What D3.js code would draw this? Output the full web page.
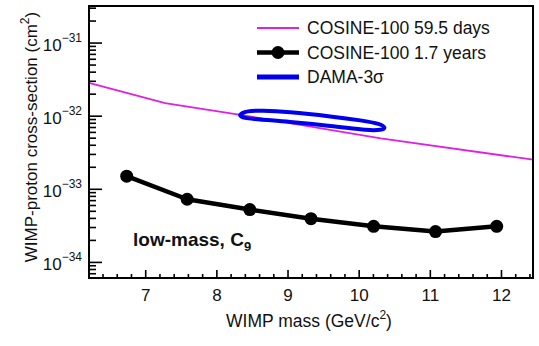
<!DOCTYPE html>
<html>
<head>
<meta charset="utf-8">
<script src="https://cdn.jsdelivr.net/npm/d3@7"></script>
<style>
  body { margin: 0; background: #fff; }
  svg text { font-family: "Liberation Sans", Arial, sans-serif; fill: #111; }
  .axis path { display: none; }
  .axis line { stroke: #000; stroke-width: 1.6; }
</style>
</head>
<body>
<svg id="chart" width="539" height="346"></svg>
<script>
/* values */
const massTicks = [7, 8, 9, 10, 11, 12];
const decadeExps = [-31, -32, -33, -34];

// COSINE-100 59.5 days (magenta line)
const shortMass = [6.21, 7.28, 8.36, 10.31, 12.45];
const shortXsec = [2.8e-32, 1.48e-32, 1.02e-32, 4.9e-33, 2.5e-33];

// COSINE-100 1.7 years (black points)
const longMass = [6.74, 7.59, 8.47, 9.33, 10.21, 11.08, 11.94];
const longXsec = [1.49e-33, 7.2e-34, 5.2e-34, 3.9e-34, 3.07e-34, 2.6e-34, 3.07e-34];

// DAMA 3 sigma contour
const damaMass = [8.335, 8.448, 8.659, 9.038, 9.600, 10.022, 10.275, 10.360, 10.303, 10.093, 9.600, 9.038, 8.617, 8.406];
const damaXsec = [1.026e-32, 1.146e-32, 1.164e-32, 1.11e-32, 9.77e-33, 8.62e-33, 7.73e-33, 6.92e-33, 6.40e-33, 6.40e-33, 7.25e-33, 8.22e-33, 8.89e-33, 9.33e-33];

const legendLabels = ["COSINE-100 59.5 days", "COSINE-100 1.7 years", "DAMA-3\u03c3"];
const colors = { short: "#e020e0", long: "#000", dama: "#0000ee" };

const margin = { top: 6, right: 6, bottom: 68, left: 89 };
const width = 539 - margin.left - margin.right;
const height = 346 - margin.top - margin.bottom;

const svg = d3.select("#chart");
const g = svg.append("g").attr("transform", `translate(${margin.left},${margin.top})`);

const x = d3.scaleLinear().domain([6.21, 12.45]).range([0, width]);
const y = d3.scaleLog().domain([Math.pow(10, -34.22), Math.pow(10, -30.5)]).range([height, 0]);

// x axis ticks (inward)
const xMinor = d3.range(6.4, 12.45, 0.2).filter(v => Math.abs(v - Math.round(v)) > 0.01);
g.append("g").attr("class", "axis")
  .attr("transform", `translate(0,${height})`)
  .call(d3.axisBottom(x).tickValues(xMinor).tickSize(-4).tickFormat(""));
const xAxis = g.append("g").attr("class", "axis")
  .attr("transform", `translate(0,${height})`)
  .call(d3.axisBottom(x).tickValues(massTicks).tickSize(-8).tickPadding(14).tickFormat(d3.format("d")));
xAxis.selectAll("text").attr("font-size", 17).attr("dy", "0.5em");

// y axis ticks (inward)
const yMinor = y.ticks().filter(v => {
  const m = v / Math.pow(10, Math.floor(Math.log10(v) + 1e-9));
  return Math.abs(m - 1) > 1e-6;
});
g.append("g").attr("class", "axis")
  .call(d3.axisLeft(y).tickValues(yMinor).tickSize(-7).tickFormat(""));
g.append("g").attr("class", "axis")
  .call(d3.axisLeft(y).tickValues(decadeExps.map(e => Math.pow(10, e))).tickSize(-13).tickFormat(""));

// y tick labels with superscripts
decadeExps.forEach(e => {
  const t = g.append("text")
    .attr("x", -7)
    .attr("y", y(Math.pow(10, e)) + 8)
    .attr("text-anchor", "end")
    .attr("font-size", 17);
  t.append("tspan").text("10");
  t.append("tspan").attr("font-size", 12).attr("dy", -9).text("\u2212" + (-e));
});

// curves
const line = d3.line().x(d => x(d[0])).y(d => y(d[1]));

g.append("path")
  .datum(d3.zip(shortMass, shortXsec))
  .attr("fill", "none").attr("stroke", colors.short).attr("stroke-width", 1.8)
  .attr("d", line);

g.append("path")
  .datum(d3.zip(damaMass, damaXsec))
  .attr("fill", "none").attr("stroke", colors.dama).attr("stroke-width", 4)
  .attr("d", d3.line().x(d => x(d[0])).y(d => y(d[1])).curve(d3.curveCardinalClosed));

g.append("path")
  .datum(d3.zip(longMass, longXsec))
  .attr("fill", "none").attr("stroke", colors.long).attr("stroke-width", 4.5)
  .attr("stroke-linejoin", "round")
  .attr("d", line);

g.selectAll("circle.pt")
  .data(d3.zip(longMass, longXsec))
  .enter().append("circle")
  .attr("class", "pt")
  .attr("cx", d => x(d[0])).attr("cy", d => y(d[1]))
  .attr("r", 6.5).attr("fill", colors.long);

// frame
g.append("rect")
  .attr("width", width).attr("height", height)
  .attr("fill", "none").attr("stroke", "#000").attr("stroke-width", 2);

// legend
const legend = g.append("g").attr("transform", "translate(168,22)");
legendLabels.forEach((lab, i) => {
  const row = legend.append("g").attr("transform", `translate(0,${i * 24.5})`);
  if (i === 0) {
    row.append("line").attr("x1", 0).attr("x2", 42).attr("stroke", colors.short).attr("stroke-width", 2);
  } else if (i === 1) {
    row.append("line").attr("x1", 0).attr("x2", 42).attr("stroke", colors.long).attr("stroke-width", 4.5);
    row.append("circle").attr("cx", 21).attr("r", 6.5).attr("fill", colors.long);
  } else {
    row.append("line").attr("x1", 0).attr("x2", 42).attr("stroke", colors.dama).attr("stroke-width", 5);
  }
  row.append("text").attr("x", 50).attr("dy", "0.36em").attr("font-size", 17.5).text(lab);
});

// annotation
const ann = g.append("text")
  .attr("x", 44).attr("y", 240)
  .attr("font-size", 19).attr("font-weight", "bold");
ann.append("tspan").text("low-mass, C");
ann.append("tspan").attr("font-size", 13).attr("dy", 5).text("9");

// axis titles
const xt = svg.append("text")
  .attr("x", margin.left + width / 2 - 2).attr("y", 327)
  .attr("text-anchor", "middle").attr("font-size", 17.5);
xt.append("tspan").text("WIMP mass (GeV/c");
xt.append("tspan").attr("font-size", 12).attr("dy", -8).text("2");
xt.append("tspan").attr("dy", 8).text(")");

const yt = svg.append("text")
  .attr("transform", "translate(37,137) rotate(-90)")
  .attr("text-anchor", "middle").attr("font-size", 17);
yt.append("tspan").text("WIMP-proton cross-section (cm");
yt.append("tspan").attr("font-size", 12).attr("dy", -8).text("2");
yt.append("tspan").attr("dy", 8).text(")");
</script>
</body>
</html>
